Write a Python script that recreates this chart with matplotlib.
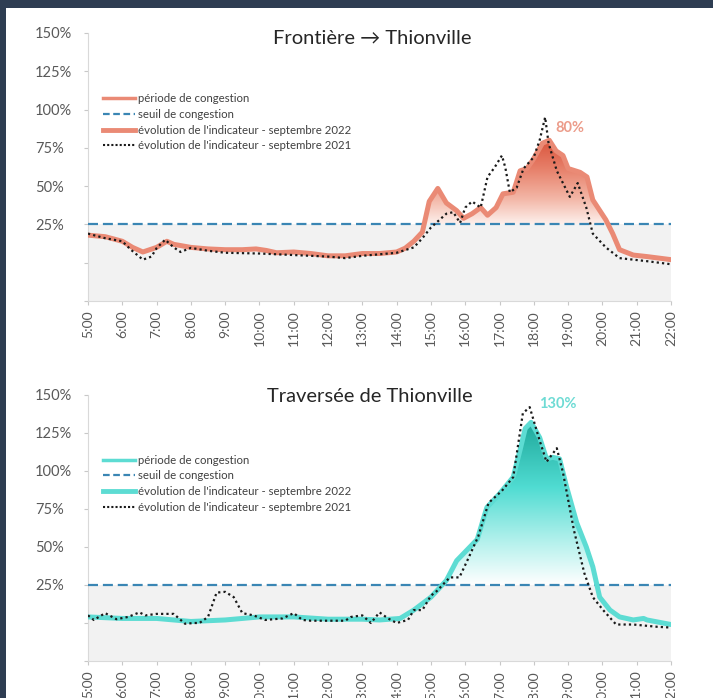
import numpy as np
import matplotlib
matplotlib.use('Agg')
import matplotlib.pyplot as plt
from matplotlib.colors import LinearSegmentedColormap
from matplotlib.path import Path
from matplotlib.patches import PathPatch, Rectangle
from matplotlib.lines import Line2D

plt.rcParams['font.family'] = ['Lato', 'DejaVu Sans']

# ---------------- DATA ----------------
hours = list(range(5, 23))
hour_labels = [f"{h}:00" for h in hours]
y_ticks = [-25, 0, 25, 50, 75, 100, 125, 150]
threshold = 25

titles = ["Frontière \u2192 Thionville", "Traversée de Thionville"]
peak_labels = ["80%", "130%"]
legend_labels = ["période de congestion", "seuil de congestion",
                 "évolution de l'indicateur - septembre 2022",
                 "évolution de l'indicateur - septembre 2021"]

# Frontière -> Thionville, septembre 2022
t_front_2022 = [5.0, 5.5, 6.0, 6.3, 6.6, 7.0, 7.3, 7.5, 8.0, 8.5, 9.0, 9.5, 9.9, 10.2, 10.5,
                11.0, 11.5, 12.0, 12.5, 13.0, 13.5, 14.0, 14.25, 14.5, 14.75, 14.95, 15.2,
                15.45, 15.75, 15.95, 16.2, 16.45, 16.65, 16.9, 17.1, 17.4, 17.6, 17.8, 17.97,
                18.25, 18.45, 18.65, 18.85, 19.0, 19.35, 19.55, 19.72, 20.1, 20.3, 20.5,
                20.9, 21.3, 22.0]
v_front_2022 = [18, 17, 14, 10, 7, 10, 14, 12, 10, 9, 8.5, 8.5, 9, 8, 6.5,
                7, 6, 4.5, 4.5, 6, 6, 7, 9.5, 14, 20, 40, 48.5,
                39, 34, 29, 32, 36, 31, 36, 45, 46, 60, 61.5, 67,
                78, 80, 73, 70, 61.5, 59, 56, 41, 28, 19, 8.5,
                5, 4, 2]

# Frontière -> Thionville, septembre 2021
t_front_2021 = [5.0, 5.5, 6.0, 6.25, 6.6, 6.85, 7.0, 7.25, 7.5, 7.7, 8.0, 8.5, 9.0, 10.0,
                11.0, 12.0, 12.5, 13.0, 14.0, 14.5, 14.75, 15.0, 15.2, 15.45, 15.65, 15.85,
                16.0, 16.2, 16.45, 16.65, 16.85, 17.07, 17.17, 17.3, 17.5, 17.7, 18.0,
                18.17, 18.33, 18.43, 18.67, 19.05, 19.28, 19.53, 19.72, 20.1, 20.5, 21.3, 22.0]
v_front_2021 = [19, 16, 14, 8.5, 2, 4, 9.5, 15, 10, 7, 9.7, 7.8, 6.5, 6,
                5, 4, 3, 4.5, 6.5, 10, 16, 23, 27, 32, 33, 26,
                36, 40, 36, 56, 62, 70, 62, 46, 49, 61.5, 69,
                80, 95, 78, 60, 43, 52, 36, 19, 10, 3, 1, -1]

# Traversée de Thionville, septembre 2022
t_trav_2022 = [5.0, 6.0, 7.0, 8.0, 9.0, 10.0, 11.0, 12.0, 13.0, 13.5, 14.1, 14.5, 15.0,
               15.45, 15.75, 16.05, 16.35, 16.63, 17.0, 17.4, 17.6, 17.75, 17.92, 18.17,
               18.37, 18.55, 18.75, 18.95, 19.25, 19.53, 19.72, 19.92, 20.22, 20.5, 20.9,
               21.2, 21.3, 22.0]
v_trav_2022 = [4, 3, 3, 1, 2, 4, 4, 2.5, 2.5, 2, 3, 8.5, 17,
               28, 41, 48, 55, 76, 85, 96, 114, 128, 132, 122,
               108, 109, 108, 90, 66, 50, 37, 17, 8.5, 4, 2,
               3, 2, -1]

# Traversée de Thionville, septembre 2021
t_trav_2021 = [5.0, 5.17, 5.5, 5.83, 6.17, 6.5, 6.67, 7.0, 7.5, 7.83, 8.1, 8.25, 8.5, 8.75,
               9.0, 9.25, 9.5, 9.83, 10.17, 10.67, 11.0, 11.25, 11.5, 12.5, 12.67, 13.0,
               13.25, 13.5, 13.75, 14.0, 14.33, 14.5, 14.75, 15.0, 15.17, 15.55, 15.83,
               16.1, 16.38, 16.68, 17.07, 17.4, 17.68, 17.88, 18.17, 18.37, 18.67, 18.85,
               19.17, 19.47, 19.72, 20.02, 20.4, 20.9, 21.6, 22.0]
v_trav_2021 = [5, 2, 6.5, 2.5, 4, 7, 5, 6, 6, -0.5, 0, 0, 4, 20,
               20.5, 17, 6.5, 5, 2, 3, 6.5, 2, 1.5, 1.5, 4, 5,
               0, 7, 3, 0, 2, 8.5, 8.5, 18, 21, 30, 30,
               43, 57, 79, 87, 96, 138, 142, 120, 106, 115, 99,
               61, 33, 17, 8.5, -1, -1, -2.5, -3]

# ---------------- STYLE ----------------
W, H = 713, 698
fig = plt.figure(figsize=(W / 100, H / 100), dpi=100)
fig.patch.set_facecolor('white')

def px_axes(l, t, r, b):
    return fig.add_axes([l / W, 1 - b / H, (r - l) / W, (b - t) / H])

cmap_red = LinearSegmentedColormap.from_list(
    'red', [(0, '#fdf0ec'), (0.3, '#f3b6a6'), (0.65, '#e7806a'), (1, '#d9533b')])
cmap_teal = LinearSegmentedColormap.from_list(
    'teal', [(0, '#ffffff'), (0.3, '#aaefea'), (0.6, '#50dcd2'), (1, '#1fa89b')])

thr_color = '#3a86b4'
dot_color = '#1a1a1a'
grey_txt = '#595959'


def panel(ax, t22, v22, t21, v21, lcolor, cmap):
    ax.axhspan(-25, threshold, color='#f2f2f2', zorder=0, lw=0)
    v = np.array(v22, dtype=float)
    t = np.array(t22, dtype=float)
    coll = ax.fill_between(t, v, threshold, where=v >= threshold, interpolate=True,
                           facecolor='none', edgecolor='none')
    cp = Path.make_compound_path(*coll.get_paths())
    patch = PathPatch(cp, transform=ax.transData, facecolor='none', edgecolor='none')
    ax.add_patch(patch)
    grad = np.linspace(0, 1, 256).reshape(-1, 1)
    im = ax.imshow(grad, extent=[5, 22, threshold, v.max()], origin='lower',
                   aspect='auto', cmap=cmap, zorder=2, interpolation='bilinear')
    im.set_clip_path(patch)
    ax.axhline(threshold, color=thr_color, lw=1.6, ls=(0, (4.5, 2.2)), zorder=3)
    ax.plot(t, v, color=lcolor, lw=3.6, solid_capstyle='round',
            solid_joinstyle='round', zorder=4)
    ax.plot(t21, v21, color=dot_color, lw=1.6, ls=(0, (1, 1.4)), zorder=5)

    ax.set_xlim(5, 22)
    ax.set_ylim(-25, 150)
    ax.set_xticks(hours)
    ax.set_xticklabels(hour_labels, rotation=90, fontsize=10, color=grey_txt)
    ax.set_yticks(y_ticks)
    ax.set_yticklabels(['' if y <= 0 else f"{y}%" for y in y_ticks],
                       fontsize=10.5, color=grey_txt)
    ax.tick_params(axis='y', length=3, color='#c8c8c8', pad=35)
    ax.tick_params(axis='x', length=3, color='#c8c8c8', pad=4)
    for lab in ax.get_yticklabels():
        lab.set_horizontalalignment('left')
    for s in ['top', 'right']:
        ax.spines[s].set_visible(False)
    for s in ['left', 'bottom']:
        ax.spines[s].set_color('#d9d9d9')
    ax.set_facecolor('none')

    handles = [Line2D([], [], color=lcolor, lw=2.5),
               Line2D([], [], color=thr_color, lw=1.6, ls=(0, (3, 1.6))),
               Line2D([], [], color=lcolor, lw=3.5),
               Line2D([], [], color=dot_color, lw=1.5, ls=(0, (1, 1)))]
    leg = ax.legend(handles, legend_labels, loc='upper left',
                    bbox_to_anchor=((103 - 88) / 583, (268 - 60) / 268),
                    frameon=False, fontsize=8.2, handlelength=2.8, handletextpad=0.25,
                    labelspacing=0.42, borderpad=0, borderaxespad=0)
    for tx in leg.get_texts():
        tx.set_color('#404040')


ax1 = px_axes(88, 33, 671, 301)
panel(ax1, t_front_2022, v_front_2022, t_front_2021, v_front_2021, '#ea8a75', cmap_red)
ax2 = px_axes(88, 395, 671, 661)
panel(ax2, t_trav_2022, v_trav_2022, t_trav_2021, v_trav_2021, '#5ddcd3', cmap_teal)

fig.text(372 / W, 1 - 38 / H, titles[0], ha='center', va='center', fontsize=14.5, color='#262626')
fig.text(370 / W, 1 - 397 / H, titles[1], ha='center', va='center', fontsize=14.5, color='#262626')
fig.text(570 / W, 1 - 128 / H, peak_labels[0], ha='center', va='center', fontsize=10.5,
         fontweight='bold', color='#ec9c8a')
fig.text(558 / W, 1 - 404 / H, peak_labels[1], ha='center', va='center', fontsize=10.5,
         fontweight='bold', color='#6edbd4')

# dark frame
fig.patches.append(Rectangle((0, 1 - 8 / H), 1, 8 / H, transform=fig.transFigure,
                             facecolor='#2e3d52', edgecolor='none', zorder=10))
fig.patches.append(Rectangle((0, 0), 6 / W, 1, transform=fig.transFigure,
                             facecolor='#2e3d52', edgecolor='none', zorder=10))

fig.savefig('out.png', dpi=100)
